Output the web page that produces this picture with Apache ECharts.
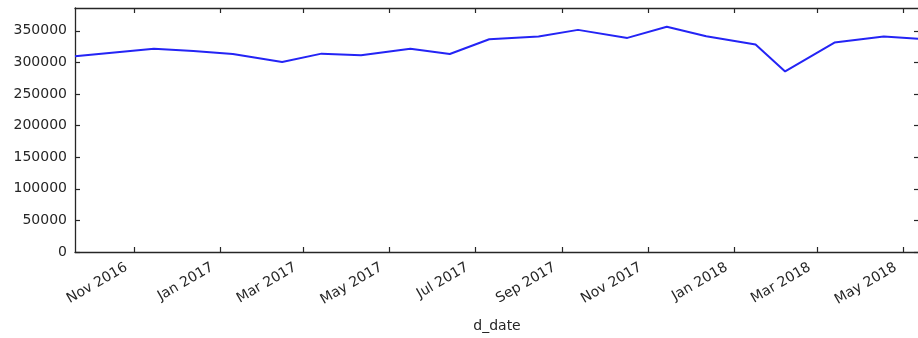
<!DOCTYPE html>
<html>
<head>
<meta charset="utf-8">
<script src="https://cdn.jsdelivr.net/npm/echarts@6/dist/echarts.min.js"></script>
<style>html,body{margin:0;padding:0;background:#fff;}#c{width:918px;height:338px;}</style>
</head>
<body>
<div id="c"></div>
<script>
// ---- data ----
const dates = ['2016-09-20','2016-11-15','2016-12-13','2017-01-10','2017-02-14','2017-03-14','2017-04-11','2017-05-16','2017-06-13','2017-07-11','2017-08-15','2017-09-12','2017-10-17','2017-11-14','2017-12-12','2018-01-16','2018-02-06','2018-03-13','2018-04-17','2018-05-12'];
const values = [309500, 321700, 318000, 313300, 300600, 313800, 311100, 321700, 313300, 336500, 340800, 351400, 338700, 356200, 341300, 328100, 285700, 331300, 340800, 337100];
const xTickDates = ['2016-11-01','2017-01-01','2017-03-01','2017-05-01','2017-07-01','2017-09-01','2017-11-01','2018-01-01','2018-03-01','2018-05-01'];
const xTickLabels = ['Nov 2016','Jan 2017','Mar 2017','May 2017','Jul 2017','Sep 2017','Nov 2017','Jan 2018','Mar 2018','May 2018'];
const yTicks = [0, 50000, 100000, 150000, 200000, 250000, 300000, 350000];
const yMax = 386000;
const xName = 'd_date';

// dates -> day numbers (UTC based, so no timezone effects)
function t(s){ const p = s.split('-').map(Number); return Date.UTC(p[0], p[1]-1, p[2]) / 86400000; }
const xTickTimes = xTickDates.map(t);
const seriesData = dates.map((d,i)=>[t(d), values[i]]);
const xMin = t(dates[0]), xMax = t(dates[dates.length-1]);

const ink = '#262626';
const font = 'DejaVu Sans';
const chart = echarts.init(document.getElementById('c'), null, {renderer:'canvas'});
const tickStyle = {show:true, inside:true, length:5, lineStyle:{color:ink, width:1.2}};
chart.setOption({
  animation:false,
  backgroundColor:'#ffffff',
  grid:{left:75, right:-1, top:8, bottom:86, containLabel:false, outerBoundsMode:'none'},
  xAxis:[{
    type:'value', min:xMin, max:xMax, position:'bottom',
    name:xName, nameLocation:'middle', nameGap:67,
    nameTextStyle:{fontFamily:font, fontSize:14, color:ink},
    axisLine:{show:true, onZero:false, lineStyle:{color:ink, width:1.3}},
    axisTick:Object.assign({customValues:xTickTimes}, tickStyle),
    axisLabel:{customValues:xTickTimes, rotate:30, margin:10, padding:[0,9,0,0], fontFamily:font, fontSize:14, color:ink,
      formatter:function(v){ const i = xTickTimes.indexOf(+v); return i>=0 ? xTickLabels[i] : ''; }},
    splitLine:{show:false}
  },{
    type:'value', min:xMin, max:xMax, position:'top',
    axisLine:{show:true, onZero:false, lineStyle:{color:ink, width:1.3}},
    axisTick:Object.assign({customValues:xTickTimes}, tickStyle),
    axisLabel:{show:false}, splitLine:{show:false}
  }],
  yAxis:[{
    type:'value', min:0, max:yMax, position:'left',
    axisLine:{show:true, onZero:false, lineStyle:{color:ink, width:1.3}},
    axisTick:Object.assign({customValues:yTicks}, tickStyle),
    axisLabel:{customValues:yTicks, margin:8, fontFamily:font, fontSize:14, color:ink,
      formatter:function(v){ return String(Math.round(v)); }},
    splitLine:{show:false}
  },{
    type:'value', min:0, max:yMax, position:'right',
    axisLine:{show:true, onZero:false, lineStyle:{color:ink, width:1.3}},
    axisTick:Object.assign({customValues:yTicks}, tickStyle),
    axisLabel:{show:false}, splitLine:{show:false}
  }],
  series:[{
    type:'line', xAxisIndex:0, yAxisIndex:0, data:seriesData,
    showSymbol:false, symbol:'none', clip:true,
    lineStyle:{color:'#2424f5', width:2}
  }]
});
</script>
</body>
</html>
